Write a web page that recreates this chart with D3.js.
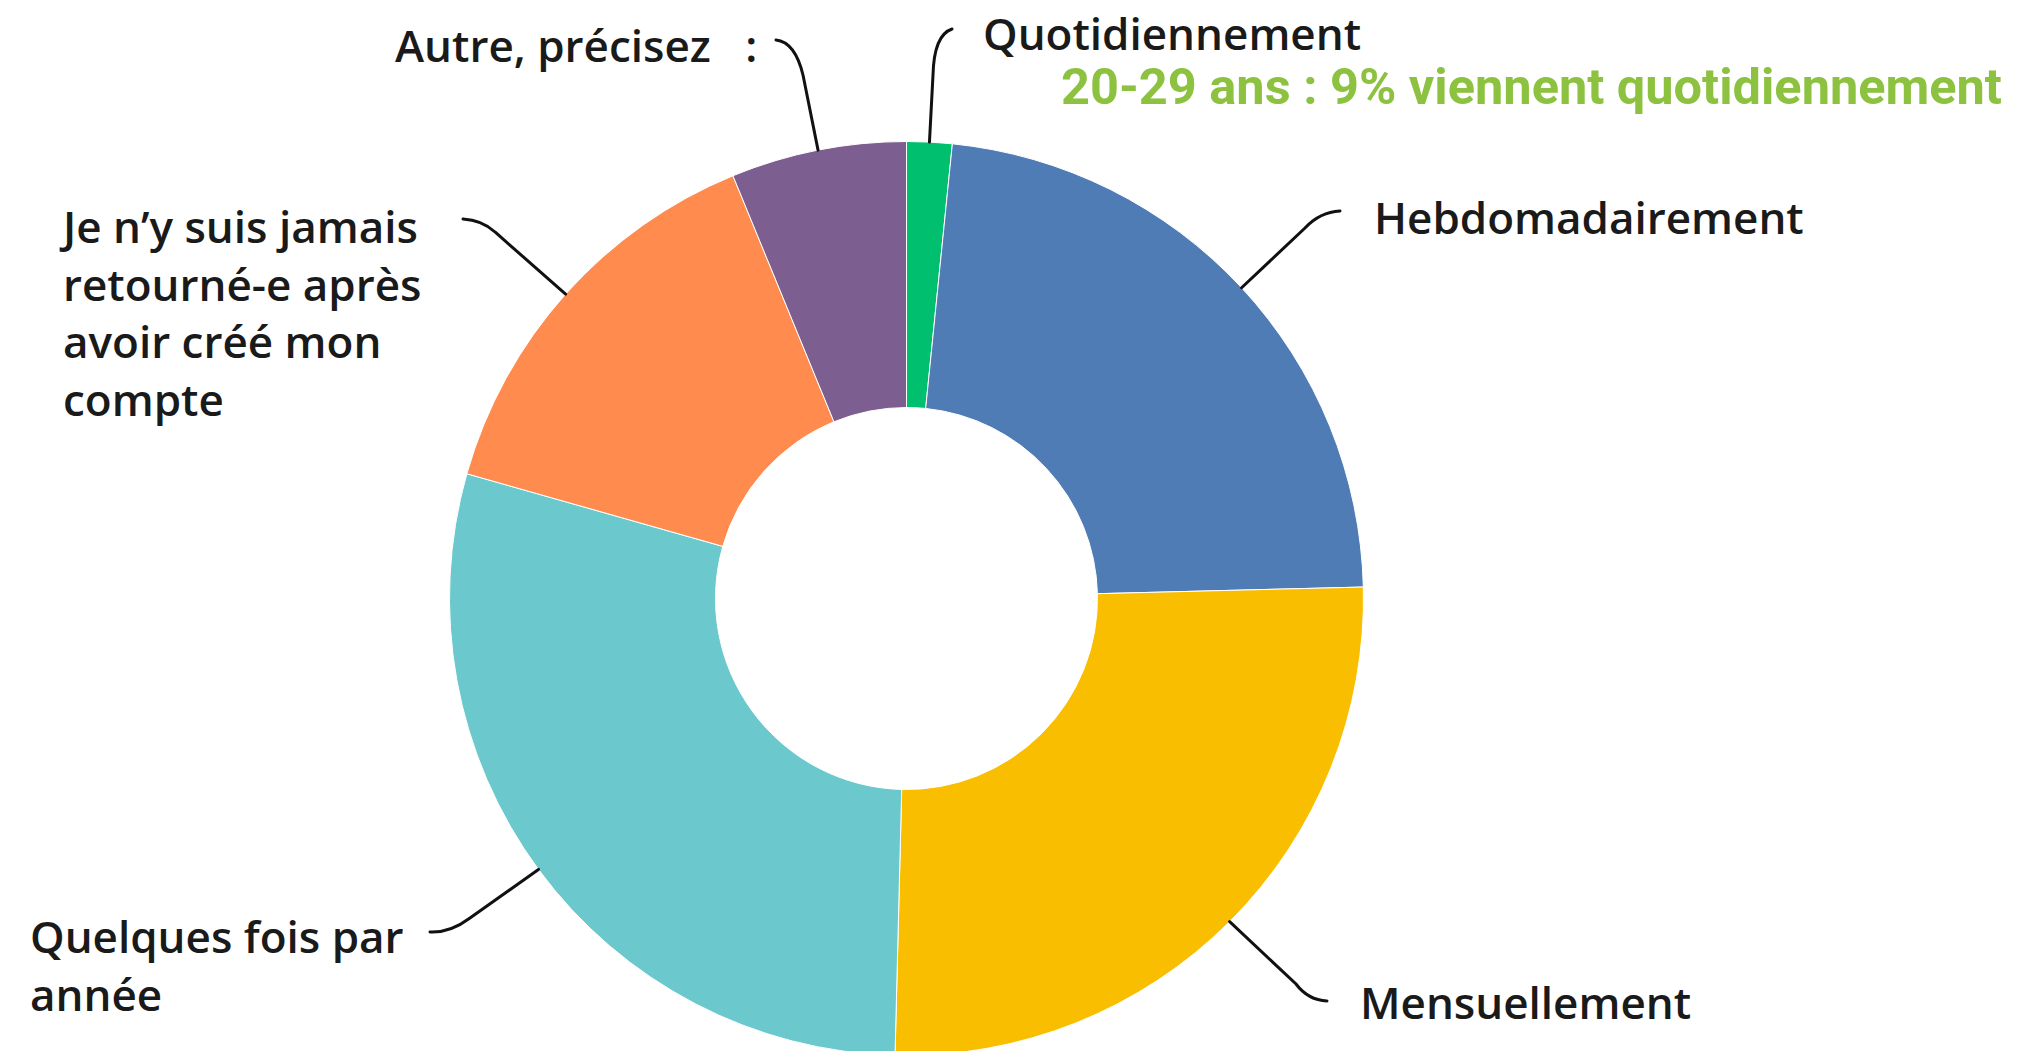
<!DOCTYPE html>
<html>
<head>
<meta charset="utf-8">
<script src="https://cdn.jsdelivr.net/npm/d3@7"></script>
<style>
  body { margin: 0; background: #fff; }
  svg { display: block; }
  .label { font-family: "Open Sans", sans-serif; font-weight: 600; font-size: 44px; fill: #1a1a1a; }
  .note { font-family: Roboto, sans-serif; font-weight: 700; font-size: 50.5px; fill: #8cc23f; }
</style>
</head>
<body>
<svg id="chart"></svg>
<script>
// answers, clockwise from 12 o'clock
const categories = [
    "Quotidiennement",
    "Hebdomadairement",
    "Mensuellement",
    "Quelques fois par année",
    "Je n’y suis jamais retourné-e après avoir créé mon compte",
    "Autre, précisez  :"
];
const values = [1.6, 23.0, 25.8, 29.0, 14.4, 6.2];   // share of answers, %
const labelLines = [
    ["Quotidiennement"],
    ["Hebdomadairement"],
    ["Mensuellement"],
    ["Quelques fois par", "année"],
    ["Je n’y suis jamais", "retourné-e après", "avoir créé mon", "compte"],
    ["Autre, précisez   :"]
];
const noteText = "20-29 ans : 9% viennent quotidiennement";

const palette = ["#00bf6f", "#507cb6", "#f9be00", "#6bc8cd", "#ff8b4f", "#7d5e90"];

// label placement + leader elbow (E), curve control (C), tip (T)
const layout = [
    { x: 983, y: 50,   E: [933, 75],   C: [934, 35],    T: [952, 29] },
    { x: 1374, y: 234, E: [1305, 228], C: [1320, 212],  T: [1340, 211] },
    { x: 1360, y: 1019, E: [1296, 984], C: [1308, 1000], T: [1327, 1001] },
    { x: 30, y: 953,   E: [470, 918],  C: [450, 933],   T: [430, 932] },
    { x: 63, y: 243,   E: [495, 232],  C: [482, 220],   T: [463, 219] },
    { x: 395, y: 62,   E: [803, 75],   C: [795, 42],    T: [776, 40] }
];

const width = 2017, height = 1051;
const cx = 906.5, cy = 598.5, outerR = 457, innerR = 191;
const lineGap = 57.5;

const svg = d3.select('#chart')
    .attr('width', width)
    .attr('height', height);

const color = d3.scaleOrdinal(categories, palette);

const pie = d3.pie().sort(null).value(d => d);
const arcs = pie(values);
const arc = d3.arc().innerRadius(innerR).outerRadius(outerR);

const g = svg.append('g').attr('transform', `translate(${cx},${cy})`);

g.selectAll('path')
    .data(arcs)
    .enter()
    .append('path')
    .attr('d', arc)
    .attr('fill', (d, i) => color(categories[i]))
    .attr('stroke', '#fff')
    .attr('stroke-width', 1);

// leader lines from the middle of each slice's outer edge
svg.selectAll('path.leader')
    .data(arcs)
    .enter()
    .append('path')
    .attr('class', 'leader')
    .attr('fill', 'none')
    .attr('stroke', '#111')
    .attr('stroke-width', 3)
    .attr('stroke-linecap', 'round')
    .attr('d', (d, i) => {
        const a = (d.startAngle + d.endAngle) / 2;
        const L = layout[i];
        const p = d3.path();
        p.moveTo(cx + outerR * Math.sin(a), cy - outerR * Math.cos(a));
        p.lineTo(L.E[0], L.E[1]);
        p.quadraticCurveTo(L.C[0], L.C[1], L.T[0], L.T[1]);
        return p.toString();
    });

labelLines.forEach((lines, i) => {
    const t = svg.append('text')
        .attr('class', 'label')
        .attr('x', layout[i].x)
        .attr('y', layout[i].y)
        .style('white-space', 'pre');
    lines.forEach((s, j) => {
        t.append('tspan')
            .attr('x', layout[i].x)
            .attr('y', layout[i].y + j * lineGap)
            .text(s);
    });
});

svg.append('text')
    .attr('class', 'note')
    .attr('x', 1061)
    .attr('y', 104)
    .text(noteText);
</script>
</body>
</html>
